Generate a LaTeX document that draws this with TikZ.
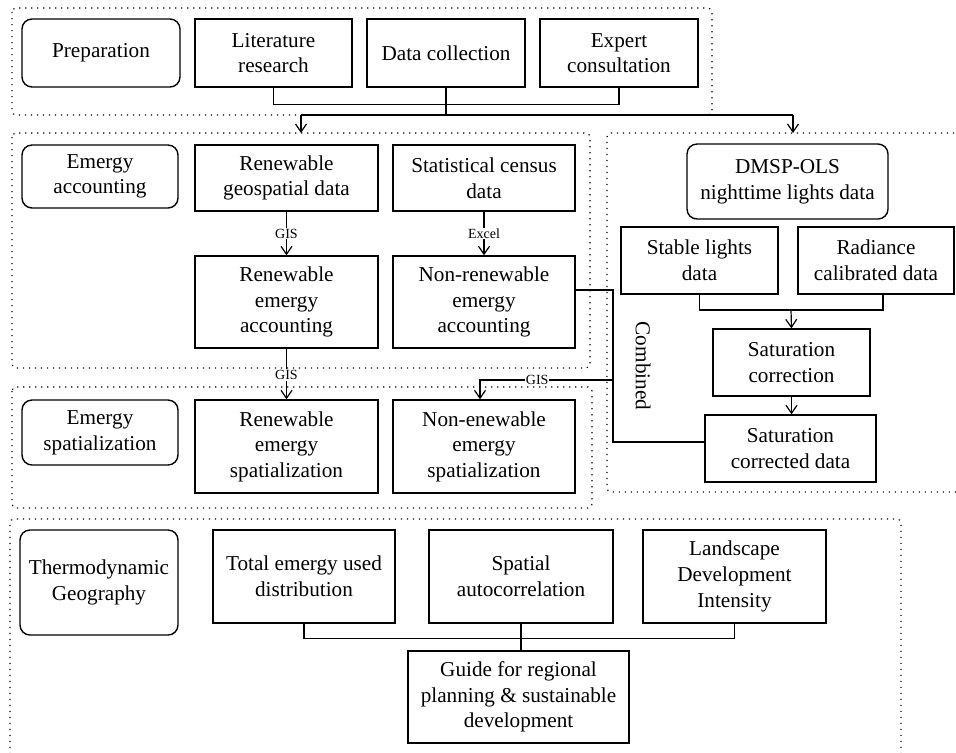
\documentclass[tikz,border=0pt]{standalone}
\usepackage{fontspec}
\setmainfont{Liberation Serif}
\usetikzlibrary{arrows.meta}
\tikzset{
  box/.style={draw, line width=0.7pt, align=center, inner sep=2pt},
  roundbox/.style={box, rounded corners=5pt},
  group/.style={line width=0.6pt, dash pattern=on 0.6pt off 2.4pt, rounded corners=2pt},
  link/.style={line width=0.6pt},
  arr/.style={link, -{Straight Barb[length=4pt,width=5.5pt]}},
  lbl/.style={fill=white, inner sep=0.5pt, font=\fontsize{7}{8}\selectfont}
}

\begin{document}
\begin{tikzpicture}[x=0.5pt, y=-0.5pt, font=\fontsize{10.6}{12.8}\selectfont]
\useasboundingbox (0,0) rectangle (956,752);

% Dotted groups
\draw[group] (12,8) rectangle (712,115);
\draw[group] (12,133) rectangle (590,368);
\draw[group] (12,387) rectangle (592,508);
\draw[group] (960,133) -- (607,133) -- (607,492) -- (960,492);
\draw[group] (10,760) -- (10,519) -- (901,519) -- (901,760);

% Preparation row
\node[roundbox, minimum width=79pt, minimum height=34pt] (prep) at (101,53) {Preparation};
\node[box, minimum width=78.5pt, minimum height=34pt] (lit) at (273.5,53) {Literature\\research};
\node[box, minimum width=79pt, minimum height=34pt] (datac) at (446,53) {Data collection};
\node[box, minimum width=79pt, minimum height=34pt] (expert) at (619,53) {Expert\\consultation};

\coordinate (jl) at (301,115);
\coordinate (jr) at (793,115);
\coordinate (acctop) at (301,133);
\coordinate (dmsptop) at (793,133);
\draw[link] (lit.south) -- ++(0,17) -| (expert.south);
\draw[link] (datac.south) -- (datac.south |- jl);
\draw[link] (jl) -- (jr);
\draw[arr] (jl) -- (acctop);
\draw[arr] (jr) -- (dmsptop);

% Emergy accounting
\node[roundbox, minimum width=78pt, minimum height=31.5pt] (acc) at (100,176.5) {Emergy\\accounting};
\node[box, minimum width=91.5pt, minimum height=33pt] (rgeo) at (286.5,178) {Renewable\\geospatial data};
\node[box, minimum width=91pt, minimum height=33pt] (census) at (484,178) {Statistical census\\data};
\node[box, minimum width=91.5pt, minimum height=46pt] (racc) at (286.5,302) {Renewable\\emergy\\accounting};
\node[box, minimum width=91pt, minimum height=46pt] (nacc) at (484,302) {Non-renewable\\emergy\\accounting};
\draw[arr] (rgeo) -- node[lbl] {GIS} (racc);
\draw[arr] (census) -- node[lbl] {Excel} (nacc);

% Emergy spatialization
\node[roundbox, minimum width=78pt, minimum height=32.5pt] (spat) at (100,432.5) {Emergy\\spatialization};
\node[box, minimum width=91.5pt, minimum height=46.5pt] (rspat) at (286.5,446.5) {Renewable\\emergy\\spatialization};
\node[box, minimum width=91pt, minimum height=46.5pt] (nspat) at (484,446.5) {Non-enewable\\emergy\\spatialization};
\draw[arr] (racc) -- node[lbl, pos=0.52] {GIS} (rspat);

% Nighttime lights
\node[roundbox, minimum width=100.5pt, minimum height=37.5pt] (dmsp) at (787.5,181.5) {DMSP-OLS\\nighttime lights data};
\node[box, minimum width=78.5pt, minimum height=33.5pt] (stable) at (699.5,260.5) {Stable lights\\data};
\node[box, minimum width=78pt, minimum height=33.5pt] (radiance) at (876,260.5) {Radiance\\calibrated data};
\node[box, minimum width=78.5pt, minimum height=33.5pt] (satcorr) at (791.5,362.5) {Saturation\\correction};
\node[box, minimum width=85.5pt, minimum height=33.5pt] (satdata) at (790.5,448.5) {Saturation\\corrected data};
\coordinate (sj) at (791,310);
\draw[link] (stable.south) -- (stable.south |- sj) -| ([xshift=3.5pt]radiance.south);
\draw[arr] (sj) -- (satcorr.north);
\draw[arr] (satcorr.south) -- (satcorr.south |- satdata.north);

% Combined
\coordinate (c1) at (613,290);
\coordinate (c2) at (613,380);
\coordinate (c3) at (613,442);
\draw[link] ([yshift=6pt]nacc.east) -- (c1) -- (c3) -- (c3 -| satdata.west);
\draw[arr] (c2) -| node[lbl, pos=0.285] {GIS} ([xshift=-2pt]nspat.north);
\node[rotate=-90] (comb) at (643,366) {Combined};

% Thermodynamic geography
\node[roundbox, minimum width=79pt, minimum height=52.5pt] (thermo) at (99,582.5) {Thermodynamic\\Geography};
\node[box, minimum width=91pt, minimum height=46.5pt] (total) at (304,576.5) {Total emergy used\\distribution};
\node[box, minimum width=92pt, minimum height=46.5pt] (spac) at (521,576.5) {Spatial\\autocorrelation};
\node[box, minimum width=91.5pt, minimum height=46.5pt] (ldi) at (734.5,576.5) {Landscape\\Development\\Intensity};
\node[box, minimum width=110.5pt, minimum height=46pt] (guide) at (518.5,697) {Guide for regional\\planning \& sustainable\\development};
\draw[link] (total.south) -- ++(0,15) -| (ldi.south);
\draw[link] (spac.south) -- (spac.south |- guide.north);

\end{tikzpicture}
\end{document}
